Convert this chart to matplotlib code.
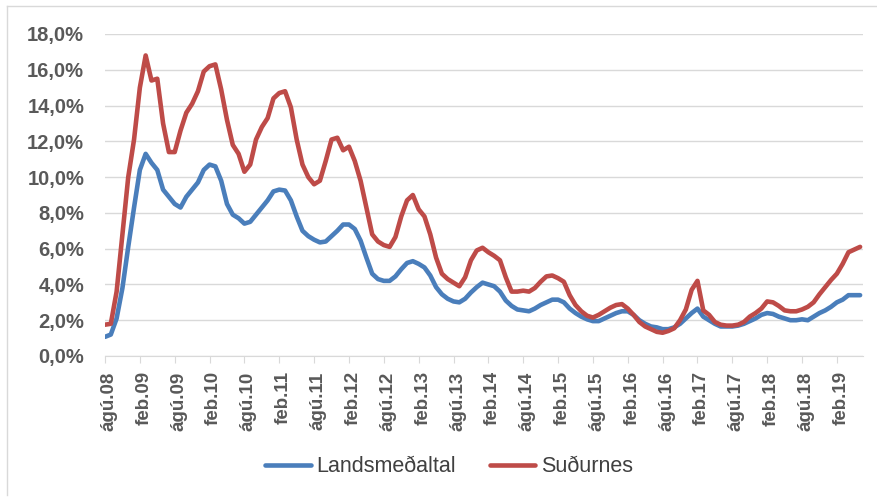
import matplotlib.pyplot as plt
import matplotlib.transforms as mtransforms
from matplotlib.lines import Line2D

# mánaðarleg gildi, ágú.08 - jún.19 (%)
landsmedaltal = [
    1.07, 1.2, 2.1, 3.8, 6.1, 8.3, 10.4, 11.3, 10.8, 10.4, 9.3, 8.9,
    8.5, 8.3, 8.9, 9.3, 9.7, 10.4, 10.7, 10.6, 9.8, 8.5, 7.9, 7.7,
    7.4, 7.5, 7.9, 8.3, 8.7, 9.2, 9.3, 9.25, 8.7, 7.8, 7.0, 6.7,
    6.5, 6.35, 6.4, 6.7, 7.0, 7.35, 7.35, 7.1, 6.45, 5.5, 4.6, 4.3,
    4.2, 4.2, 4.45, 4.85, 5.2, 5.3, 5.15, 4.95, 4.5, 3.85, 3.45, 3.2,
    3.05, 3.0, 3.2, 3.55, 3.85, 4.1, 4.0, 3.9, 3.6, 3.1, 2.8, 2.6,
    2.55, 2.5, 2.65, 2.85, 3.0, 3.15, 3.15, 3.0, 2.65, 2.4, 2.2, 2.05,
    1.95, 1.95, 2.1, 2.25, 2.4, 2.5, 2.5, 2.3, 2.0, 1.8, 1.65, 1.6,
    1.5, 1.5, 1.6, 1.8, 2.1, 2.4, 2.65, 2.2, 2.0, 1.8, 1.65, 1.65,
    1.65, 1.7, 1.8, 1.95, 2.1, 2.3, 2.4, 2.35, 2.2, 2.1, 2.0, 2.0,
    2.05, 2.0, 2.2, 2.4, 2.55, 2.75, 3.0, 3.15, 3.4, 3.4, 3.4,
]
sudurnes = [
    1.75, 1.8, 3.6, 6.8, 10.0, 12.1, 15.0, 16.8, 15.4, 15.5, 13.0, 11.4,
    11.4, 12.6, 13.6, 14.1, 14.8, 15.9, 16.2, 16.3, 14.9, 13.2, 11.8, 11.3,
    10.3, 10.7, 12.1, 12.8, 13.3, 14.4, 14.7, 14.8, 13.9, 12.1, 10.7, 10.0,
    9.6, 9.8, 10.9, 12.1, 12.2, 11.5, 11.7, 10.9, 9.8, 8.3, 6.8, 6.4,
    6.2, 6.1, 6.65, 7.8, 8.7, 9.0, 8.2, 7.8, 6.8, 5.5, 4.6, 4.3,
    4.1, 3.9, 4.4, 5.35, 5.9, 6.05, 5.8, 5.6, 5.35, 4.4, 3.6, 3.6,
    3.65, 3.6, 3.8, 4.15, 4.45, 4.5, 4.35, 4.15, 3.4, 2.85, 2.5, 2.25,
    2.15, 2.3, 2.5, 2.7, 2.85, 2.9, 2.65, 2.3, 1.9, 1.65, 1.5, 1.35,
    1.3, 1.4, 1.55, 2.0, 2.6, 3.7, 4.2, 2.55, 2.3, 1.9, 1.75, 1.7,
    1.7, 1.75, 1.9, 2.2, 2.4, 2.65, 3.05, 3.0, 2.8, 2.55, 2.5, 2.5,
    2.6, 2.75, 3.0, 3.45, 3.85, 4.25, 4.6, 5.15, 5.8, 5.95, 6.1,
]
manudir = list(range(len(sudurnes)))

x_labels = ['ágú.08', 'feb.09', 'ágú.09', 'feb.10', 'ágú.10', 'feb.11',
            'ágú.11', 'feb.12', 'ágú.12', 'feb.13', 'ágú.13', 'feb.14',
            'ágú.14', 'feb.15', 'ágú.15', 'feb.16', 'ágú.16', 'feb.17',
            'ágú.17', 'feb.18', 'ágú.18', 'feb.19']
x_ticks = list(range(0, 6 * len(x_labels), 6))
y_ticks = [0, 2, 4, 6, 8, 10, 12, 14, 16, 18]
y_labels = ['0,0%', '2,0%', '4,0%', '6,0%', '8,0%', '10,0%', '12,0%',
            '14,0%', '16,0%', '18,0%']

plt.rcParams['font.family'] = ['Liberation Sans', 'DejaVu Sans']
grar = '#595959'

fig = plt.figure(figsize=(8.77, 5.03), dpi=100)
ax = fig.add_axes([105 / 877, 1 - 356 / 503, (863 - 105) / 877, (356 - 34) / 503])

ax.plot(manudir, landsmedaltal, color='#4A7EBB', lw=3.3, label='Landsmeðaltal',
        solid_joinstyle='round', solid_capstyle='round')
ax.plot(manudir, sudurnes, color='#BE4B48', lw=3.3, label='Suðurnes',
        solid_joinstyle='round', solid_capstyle='round')

ax.set_xlim(0, 130.5)
ax.set_ylim(0, 18)
ax.set_yticks(y_ticks)
ax.set_yticklabels(y_labels, fontsize=14.5, fontweight='bold', color=grar)
ax.set_xticks(x_ticks)
ax.set_xticklabels(x_labels, rotation=90, fontsize=13.5, fontweight='bold', color=grar)
ax.grid(axis='y', color='#D9D9D9', lw=1)
ax.set_axisbelow(True)
for s in ['top', 'right', 'left']:
    ax.spines[s].set_visible(False)
ax.spines['bottom'].set_color('#D9D9D9')
ax.tick_params(axis='y', length=0, pad=15)
ax.tick_params(axis='x', length=5, color='#D9D9D9', pad=6)

# merkin á x-ás örlítið til hægri eins og í frumriti
skuf = mtransforms.ScaledTranslation(4 / 100, 0, fig.dpi_scale_trans)
for lbl in ax.get_xticklabels():
    lbl.set_transform(lbl.get_transform() + skuf)

fig.legend(loc='center', bbox_to_anchor=(0.512, 0.072), ncol=2, frameon=False,
           fontsize=15.5, handlelength=2.1, handletextpad=0.25, columnspacing=1.6,
           labelcolor='#404040')

# ljós rammi efst og vinstra megin
fig.add_artist(Line2D([7 / 877, 1], [1 - 6 / 503, 1 - 6 / 503], color='#D9D9D9', lw=1))
fig.add_artist(Line2D([7 / 877, 7 / 877], [1 - 6 / 503, 8 / 503], color='#D9D9D9', lw=1))

fig.savefig('out.png', dpi=100)
